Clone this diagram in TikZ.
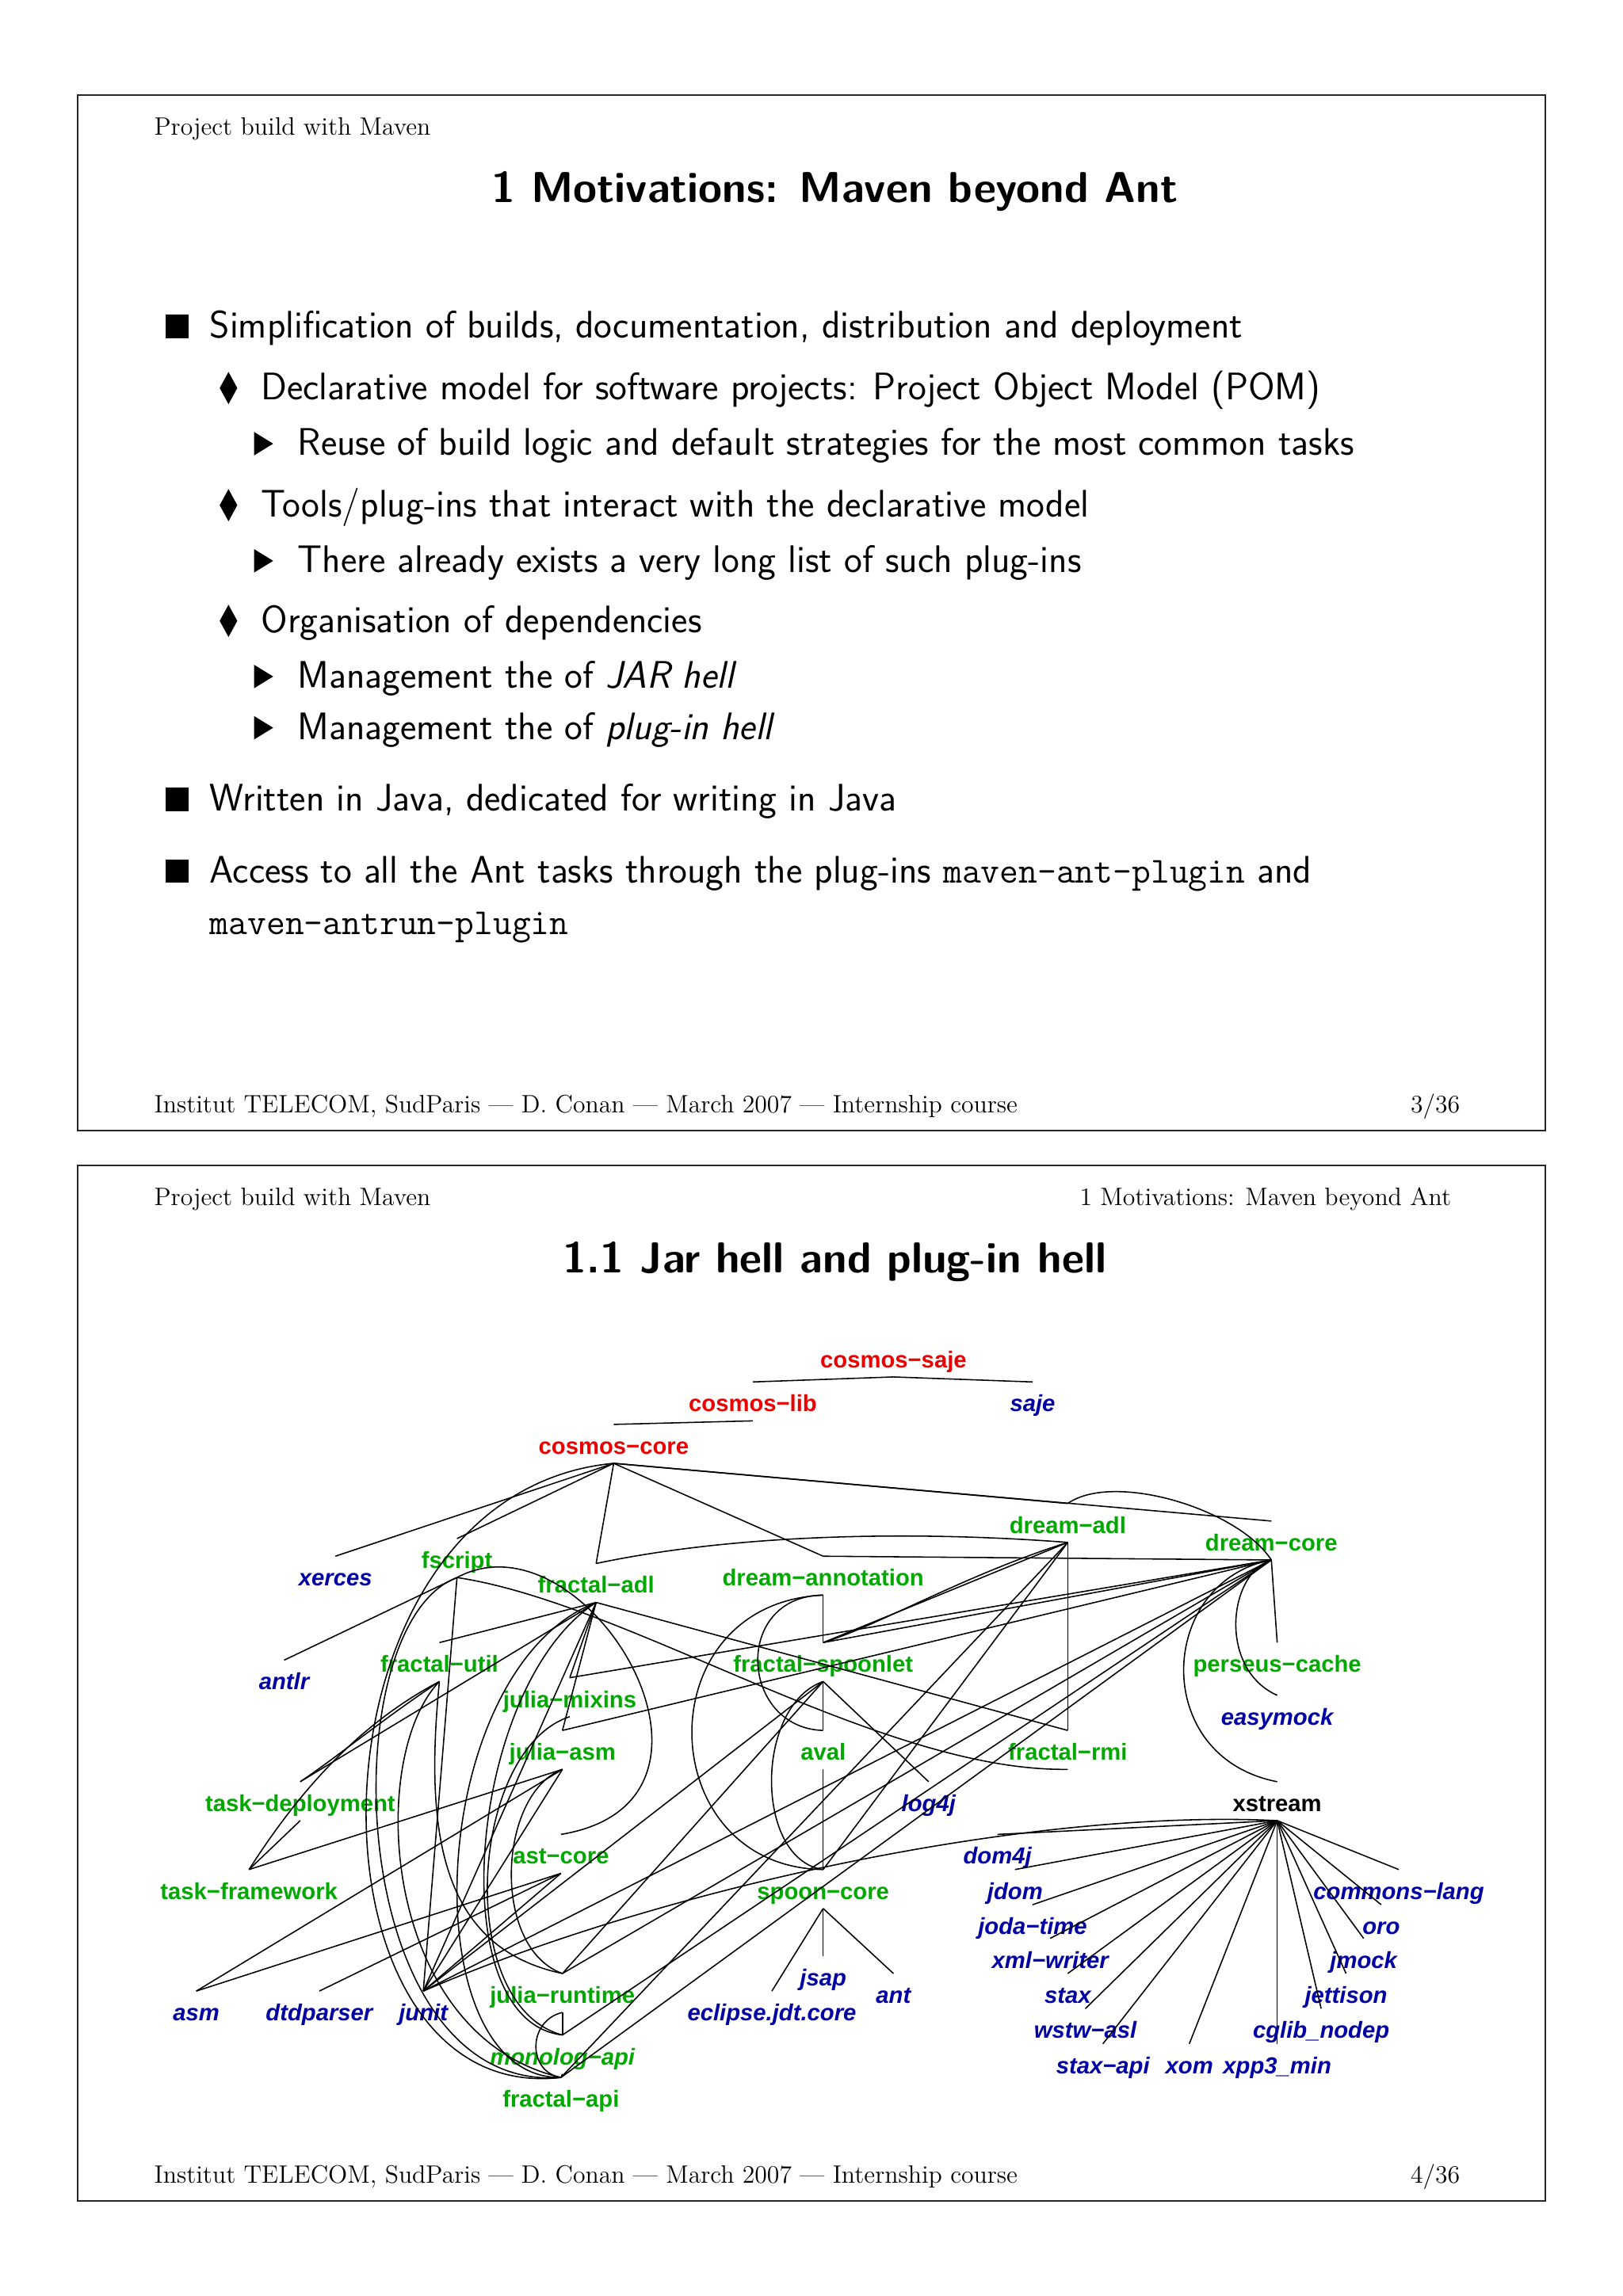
\documentclass[tikz,border=0pt]{standalone}
\usepackage{fontspec}
\usepackage{xcolor}
\newfontfamily\pkgfont{Liberation Sans}
\definecolor{PkgRed}{RGB}{235,0,0}
\definecolor{PkgGreen}{RGB}{0,168,0}
\definecolor{PkgBlue}{RGB}{0,0,165}
\newcommand\pluginname[1]{{\ttfamily\fontsize{17.8}{21}\selectfont #1}}

\tikzset{
  squarebullet/.pic={\fill (-8,-8) rectangle (8,8);},
  lozengebullet/.pic={\fill (0,-11) -- (6,0) -- (0,11) -- (-6,0) -- cycle;},
  trianglebullet/.pic={\fill (-6.5,-8) -- (6.5,0) -- (-6.5,8) -- cycle;}
}

\begin{document}
\begin{tikzpicture}[
    x=0.025cm, y=-0.025cm,
    slideframe/.style={draw=black!85, line width=0.7pt},
    headtext/.style={anchor=base west, inner sep=0pt, font=\fontsize{12.2}{14}\selectfont},
    slidetitle/.style={anchor=base, inner sep=0pt, font=\sffamily\bfseries\fontsize{21}{25}\selectfont},
    itemtext/.style={anchor=base west, inner sep=0pt, font=\sffamily\fontsize{18.65}{22}\selectfont},
    pkg/.style={anchor=base, inner xsep=0pt, inner ysep=0pt, text height=14.2pt, text depth=4.3pt,
                font=\pkgfont\bfseries\fontsize{11.25}{13}\selectfont},
    corepkg/.style={pkg, text=PkgRed},
    modpkg/.style={pkg, text=PkgGreen},
    extpkg/.style={pkg, text=PkgBlue, font=\pkgfont\bfseries\itshape\fontsize{11.25}{13}\selectfont},
    dep/.style={draw, line width=0.6pt}
]
\useasboundingbox[fill=white] (0,0) rectangle (1108,1568);

% ---------------- slide 3/36 ----------------
\draw[slideframe] (53,65) rectangle (1055,772);
\node[headtext] (head1) at (105,92) {Project build with Maven};
\node[slidetitle] (title1) at (570,138) {1 Motivations: Maven beyond Ant};

\foreach \y in {223,546,595} \pic at (121,\y) {squarebullet};
\foreach \y in {265,345,424} \pic at (156,\y) {lozengebullet};
\foreach \y in {303,383,462,497} \pic at (180,\y) {trianglebullet};

\node[itemtext] (item1) at (143,231) {Simplification of builds, documentation, distribution and deployment};
\node[itemtext] (item2) at (178,273) {Declarative model for software projects: Project Object Model (POM)};
\node[itemtext] (item3) at (203,311) {Reuse of build logic and default strategies for the most common tasks};
\node[itemtext] (item4) at (178,353) {Tools/plug-ins that interact with the declarative model};
\node[itemtext] (item5) at (203,391) {There already exists a very long list of such plug-ins};
\node[itemtext] (item6) at (178,432) {Organisation of dependencies};
\node[itemtext] (item7) at (203,470) {Management the of \emph{JAR hell}};
\node[itemtext] (item8) at (203,505) {Management the of \emph{plug-in hell}};
\node[itemtext] (item9) at (143,554) {Written in Java, dedicated for writing in Java};
\node[itemtext] (item10) at (143,603) {Access to all the Ant tasks through the plug-ins \pluginname{maven-ant-plugin} and};
\node[itemtext] (item11) at (143,638) {\pluginname{maven-antrun-plugin}};

\node[headtext] (foot1) at (105,760) {Institut TELECOM, SudParis --- D. Conan --- March 2007 --- Internship course};
\node[headtext, anchor=base east] (page1) at (997,760) {3/36};

% ---------------- slide 4/36 ----------------
\draw[slideframe] (53,796) rectangle (1055,1503);
\node[headtext] (head2) at (105,823) {Project build with Maven};
\node[headtext, anchor=base east] (section2) at (991,823) {1 Motivations: Maven beyond Ant};
\node[slidetitle] (title2) at (570,869) {1.1 Jar hell and plug-in hell};

% red: cosmos modules
\node[corepkg] (cosmos_saje) at (610,934) {cosmos−saje};
\node[corepkg] (cosmos_lib) at (514,964) {cosmos−lib};
\node[corepkg] (cosmos_core) at (419,993) {cosmos−core};
% green: modules of the platform
\node[modpkg] (fscript) at (312,1071) {fscript};
\node[modpkg] (fractal_adl) at (407,1088) {fractal−adl};
\node[modpkg] (dream_annotation) at (562,1083) {dream−annotation};
\node[modpkg] (dream_adl) at (729,1047) {dream−adl};
\node[modpkg] (dream_core) at (868,1059) {dream−core};
\node[modpkg] (fractal_util) at (300,1142) {fractal−util};
\node[modpkg] (fractal_spoonlet) at (562,1142) {fractal−spoonlet};
\node[modpkg] (perseus_cache) at (872,1142) {perseus−cache};
\node[modpkg] (julia_mixins) at (389,1166) {julia−mixins};
\node[modpkg] (julia_asm) at (384,1202) {julia−asm};
\node[modpkg] (aval) at (562,1202) {aval};
\node[modpkg] (fractal_rmi) at (729,1202) {fractal−rmi};
\node[modpkg] (task_deployment) at (205,1237) {task−deployment};
\node[modpkg] (ast_core) at (383,1273) {ast−core};
\node[modpkg] (task_framework) at (170,1297) {task−framework};
\node[modpkg] (spoon_core) at (562,1297) {spoon−core};
\node[modpkg] (julia_runtime) at (384,1368) {julia−runtime};
\node[modpkg, font=\pkgfont\bfseries\itshape\fontsize{11.25}{13}\selectfont] (monolog_api) at (384,1410) {monolog−api};
\node[modpkg] (fractal_api) at (383,1439) {fractal−api};
\node[pkg] (xstream) at (872,1237) {xstream};
% blue: third-party jars
\node[extpkg] (saje) at (705,964) {saje};
\node[extpkg] (xerces) at (229,1083) {xerces};
\node[extpkg] (antlr) at (194,1154) {antlr};
\node[extpkg] (easymock) at (872,1178) {easymock};
\node[extpkg] (log4j) at (634,1237) {log4j};
\node[extpkg] (dom4j) at (681,1273) {dom4j};
\node[extpkg] (jdom) at (693,1297) {jdom};
\node[extpkg] (joda_time) at (705,1321) {joda−time};
\node[extpkg] (xml_writer) at (717,1344) {xml−writer};
\node[extpkg] (stax) at (729,1368) {stax};
\node[extpkg] (wstw_asl) at (741,1392) {wstw−asl};
\node[extpkg] (stax_api) at (753,1416) {stax−api};
\node[extpkg] (xom) at (812,1416) {xom};
\node[extpkg] (xpp3_min) at (872,1416) {xpp3\_min};
\node[extpkg] (cglib_nodep) at (902,1392) {cglib\_nodep};
\node[extpkg] (jettison) at (919,1368) {jettison};
\node[extpkg] (jmock) at (931,1344) {jmock};
\node[extpkg] (oro) at (943,1321) {oro};
\node[extpkg] (commons_lang) at (955,1297) {commons−lang};
\node[extpkg] (jsap) at (562,1356) {jsap};
\node[extpkg] (eclipse_jdt_core) at (527,1380) {eclipse.jdt.core};
\node[extpkg] (ant) at (610,1368) {ant};
\node[extpkg] (asm) at (134,1380) {asm};
\node[extpkg] (dtdparser) at (218,1380) {dtdparser};
\node[extpkg] (junit) at (289,1380) {junit};

% dependencies
\begin{scope}[every path/.style=dep]
\draw (cosmos_saje.south) -- (cosmos_lib.north);
\draw (cosmos_saje.south) -- (saje.north);
\draw (cosmos_lib.south) -- (cosmos_core.north);
\foreach \n in {xerces, fscript, fractal_adl, dream_annotation, dream_adl, dream_core}
  \draw (cosmos_core.south) -- (\n.north);
\draw (cosmos_core.south) .. controls (200,1020) and (200,1440) .. (fractal_api.north);

\draw (fscript.south) -- (antlr.north);
\draw (fscript.south) -- (junit.north);
\draw (fscript.south) .. controls (430,1095) and (600,1210) .. (fractal_rmi.south);
\draw (fscript.south) .. controls (225,1110) and (235,1430) .. (fractal_api.north);
\draw (fscript.south) .. controls (400,1030) and (520,1230) .. (ast_core.north);

\foreach \n in {fractal_util, julia_mixins, julia_asm, task_deployment, fractal_rmi, junit}
  \draw (fractal_adl.south) -- (\n.north);
\draw (fractal_adl.south) .. controls (290,1140) and (280,1420) .. (fractal_api.north);
\draw (fractal_adl.south) .. controls (320,1150) and (300,1380) .. (monolog_api.north);

\foreach \n in {dream_annotation, julia_mixins, fractal_spoonlet, julia_asm, junit, julia_runtime, monolog_api, fractal_api, perseus_cache}
  \draw (dream_core.south) -- (\n.north);
\draw (dream_core.south) .. controls (845,1030) and (760,1005) .. (dream_adl.north);
\draw (dream_core.south) .. controls (838,1075) and (832,1140) .. (easymock.north);
\draw (dream_core.south) .. controls (790,1080) and (785,1200) .. (xstream.north);

\foreach \n in {fractal_spoonlet, fractal_rmi, spoon_core, fractal_api}
  \draw (dream_adl.south) -- (\n.north);
\draw (dream_adl.south) .. controls (660,1075) and (600,1110) .. (fractal_spoonlet.north);
\draw (dream_adl.south) .. controls (620,1045) and (500,1048) .. (fractal_adl.north);

\draw (dream_annotation.south) -- (fractal_spoonlet.north);
\draw (dream_annotation.south) .. controls (500,1090) and (505,1180) .. (aval.north);
\draw (dream_annotation.south) .. controls (440,1095) and (445,1275) .. (spoon_core.north);

\draw (fractal_spoonlet.south) -- (aval.north);
\draw (fractal_spoonlet.south) -- (log4j.north);
\draw (fractal_spoonlet.south) -- (junit.north);
\draw (fractal_spoonlet.south) -- (julia_runtime.north);
\draw (fractal_spoonlet.south) .. controls (515,1165) and (515,1270) .. (spoon_core.north);
\draw (aval.south) -- (spoon_core.north);
\foreach \n in {jsap, eclipse_jdt_core, ant}
  \draw (spoon_core.south) -- (\n.north);

\draw (fractal_util.south) .. controls (260,1175) and (230,1200) .. (task_deployment.north);
\draw (fractal_util.south) .. controls (240,1180) and (200,1230) .. (task_framework.north);
\draw (fractal_util.south) .. controls (250,1200) and (260,1390) .. (fractal_api.north);
\draw (fractal_util.south) .. controls (290,1250) and (300,1330) .. (julia_runtime.north);
\draw (julia_mixins.south) .. controls (320,1195) and (310,1370) .. (monolog_api.north);
\foreach \n in {task_framework, asm, junit}
  \draw (julia_asm.south) -- (\n.north);
\draw (julia_asm.south) .. controls (340,1225) and (335,1330) .. (julia_runtime.north);
\draw (task_deployment.south) -- (task_framework.north);
\foreach \n in {asm, dtdparser, junit}
  \draw (ast_core.south) -- (\n.north);
\draw (julia_runtime.south) -- (monolog_api.north);
\draw (julia_runtime.south) .. controls (360,1380) and (360,1415) .. (fractal_api.north);
\draw (monolog_api.south) -- (fractal_api.north);

\foreach \n in {dom4j, jdom, joda_time, xml_writer, stax, wstw_asl, stax_api, xom, xpp3_min, cglib_nodep, jettison, jmock, oro, commons_lang}
  \draw (xstream.south) -- (\n.north);
\draw (xstream.south) .. controls (700,1235) and (450,1290) .. (junit.north);
\end{scope}

\node[headtext] (foot2) at (105,1491) {Institut TELECOM, SudParis --- D. Conan --- March 2007 --- Internship course};
\node[headtext, anchor=base east] (page2) at (997,1491) {4/36};
\end{tikzpicture}
\end{document}
